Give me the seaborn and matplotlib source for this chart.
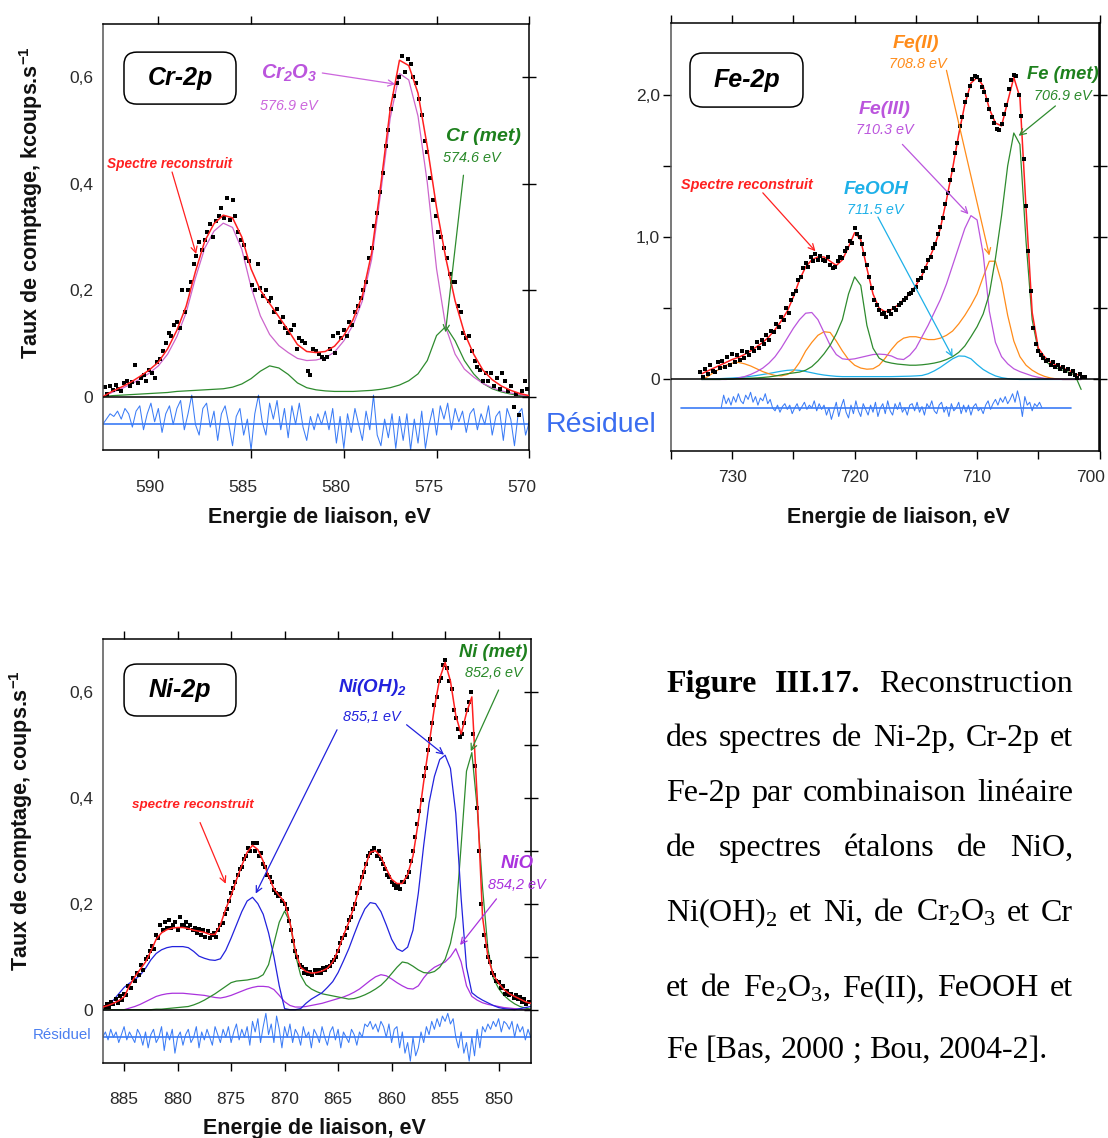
import numpy as np
import matplotlib
matplotlib.use("Agg")
import matplotlib.pyplot as plt
import matplotlib.transforms as mtransforms
from matplotlib.patches import FancyBboxPatch
import seaborn as sns

# ---------------- Cr-2p ----------------
cr_e = np.linspace(593, 570, 47)
cr_fit = [0.000, 0.010, 0.018, 0.027, 0.038, 0.050, 0.065, 0.090, 0.125, 0.170,
          0.235, 0.292, 0.325, 0.341, 0.336, 0.300, 0.240, 0.200, 0.175, 0.150,
          0.125, 0.098, 0.085, 0.083, 0.085, 0.095, 0.115, 0.145, 0.190, 0.270,
          0.400, 0.540, 0.632, 0.622, 0.570, 0.470, 0.355, 0.260, 0.180, 0.120,
          0.080, 0.050, 0.032, 0.020, 0.012, 0.006, 0.002]
cr_cr2o3 = [0.000, 0.008, 0.015, 0.023, 0.033, 0.044, 0.058, 0.080, 0.113, 0.158,
            0.223, 0.279, 0.311, 0.326, 0.318, 0.277, 0.206, 0.152, 0.117, 0.096,
            0.083, 0.072, 0.068, 0.069, 0.073, 0.084, 0.105, 0.135, 0.180, 0.258,
            0.386, 0.523, 0.607, 0.595, 0.527, 0.402, 0.240, 0.130, 0.080, 0.052,
            0.037, 0.025, 0.017, 0.011, 0.007, 0.004, 0.001]
cr_met = [0.000, 0.002, 0.003, 0.004, 0.005, 0.006, 0.007, 0.008, 0.010, 0.011,
          0.012, 0.013, 0.014, 0.015, 0.018, 0.024, 0.034, 0.048, 0.058, 0.054,
          0.042, 0.026, 0.017, 0.013, 0.011, 0.010, 0.010, 0.010, 0.011, 0.012,
          0.014, 0.017, 0.022, 0.030, 0.043, 0.068, 0.115, 0.132, 0.105, 0.068,
          0.043, 0.025, 0.015, 0.009, 0.005, 0.002, 0.001]
cr_pts_e = np.linspace(592.9, 570.1, 153)
cr_pts = [0.018, 0.005, 0.02, 0.012, 0.022, 0.015, 0.01, 0.025, 0.03, 0.02,
          0.028, 0.06, 0.025, 0.035, 0.04, 0.03, 0.05, 0.045, 0.035, 0.065,
          0.07, 0.085, 0.1, 0.12, 0.115, 0.135, 0.14, 0.13, 0.2, 0.16,
          0.2, 0.215, 0.25, 0.265, 0.29, 0.275, 0.295, 0.31, 0.325, 0.3,
          0.33, 0.34, 0.354, 0.335, 0.373, 0.332, 0.37, 0.34, 0.31, 0.295,
          0.285, 0.26, 0.255, 0.21, 0.2, 0.25, 0.205, 0.19, 0.2, 0.18,
          0.185, 0.16, 0.165, 0.14, 0.15, 0.13, 0.12, 0.125, 0.135, 0.09,
          0.11, 0.105, 0.1, 0.048, 0.04, 0.09, 0.085, 0.08, 0.075, 0.07,
          0.075, 0.09, 0.115, 0.082, 0.12, 0.11, 0.125, 0.115, 0.14, 0.135,
          0.16, 0.17, 0.185, 0.2, 0.215, 0.26, 0.28, 0.32, 0.345, 0.385,
          0.42, 0.47, 0.5, 0.54, 0.565, 0.59, 0.6, 0.64, 0.61, 0.635,
          0.625, 0.6, 0.59, 0.56, 0.53, 0.48, 0.46, 0.41, 0.37, 0.34,
          0.31, 0.3, 0.28, 0.26, 0.23, 0.215, 0.215, 0.17, 0.16, 0.12,
          0.11, 0.115, 0.085, 0.068, 0.056, 0.05, 0.03, 0.045, 0.03, 0.045,
          0.02, 0.035, 0.015, 0.045, 0.03, 0.01, 0.02, -0.02, 0.005, -0.035,
          0.01, 0.03, 0.015]
cr_res_e = np.linspace(593, 570, 116)
cr_res = [0.0, 0.01, 0.02, 0.015, 0.025, 0.01, 0.03, 0.02, -0.005, 0.025,
          0.035, -0.01, 0.02, 0.04, 0.005, 0.03, -0.015, 0.02, 0.035, 0.0,
          0.03, 0.045, -0.01, 0.02, 0.055, 0.0, -0.02, 0.03, 0.04, -0.005,
          0.025, -0.03, 0.02, 0.035, 0.0, -0.04, 0.015, 0.03, -0.02, 0.01,
          -0.048, 0.02, 0.055, 0.005, -0.02, 0.04, 0.01, 0.045, -0.01, 0.03,
          -0.025, 0.035, 0.0, 0.04, -0.005, -0.03, 0.015, -0.01, 0.02, 0.0,
          0.025, -0.01, 0.03, -0.035, 0.015, -0.045, 0.02, -0.015, 0.03, 0.0,
          -0.03, 0.025, -0.01, 0.055, -0.02, -0.04, 0.01, -0.025, 0.02, -0.045,
          0.015, -0.03, 0.02, -0.048, 0.01, -0.035, 0.025, -0.045, 0.0, 0.03,
          -0.02, 0.035, 0.01, 0.04, -0.01, 0.03, 0.005, 0.025, -0.015, 0.02,
          0.03, -0.01, 0.02, 0.0, 0.035, -0.02, 0.015, 0.025, -0.03, 0.03,
          0.01, -0.04, 0.02, 0.03, -0.02, 0.005]
cr_res_base = -0.052
cr_base_e = [593, 570]

# ---------------- Fe-2p ----------------
fe_e = np.linspace(732.5, 701.5, 63)
fe_fit = [0.04, 0.06, 0.08, 0.10, 0.12, 0.14, 0.155, 0.175, 0.20, 0.23,
          0.26, 0.30, 0.35, 0.41, 0.48, 0.58, 0.70, 0.79, 0.84, 0.86,
          0.86, 0.83, 0.80, 0.84, 0.93, 1.03, 0.98, 0.78, 0.60, 0.50,
          0.475, 0.49, 0.52, 0.56, 0.60, 0.66, 0.73, 0.83, 0.93, 1.06,
          1.26, 1.48, 1.72, 1.93, 2.08, 2.12, 2.06, 1.90, 1.80, 1.78,
          1.95, 2.12, 1.98, 1.20, 0.47, 0.22, 0.16, 0.12, 0.10, 0.08,
          0.065, 0.04, 0.025]
fe_met = [0.0, 0.0, 0.0, 0.0, 0.002, 0.003, 0.005, 0.007, 0.009, 0.011,
          0.014, 0.018, 0.024, 0.032, 0.04, 0.046, 0.052, 0.065, 0.09, 0.13,
          0.18, 0.24, 0.32, 0.42, 0.60, 0.72, 0.66, 0.38, 0.22, 0.15,
          0.125, 0.115, 0.108, 0.104, 0.10, 0.10, 0.103, 0.108, 0.115, 0.125,
          0.14, 0.16, 0.19, 0.235, 0.30, 0.37, 0.46, 0.60, 0.85, 1.15,
          1.50, 1.73, 1.65, 0.97, 0.42, 0.20, 0.135, 0.10, 0.08, 0.065,
          0.05, 0.03, -0.07]
fe_fe3 = [0.0, 0.0, 0.0, 0.0, 0.0, 0.003, 0.01, 0.02, 0.035, 0.055,
          0.08, 0.115, 0.16, 0.22, 0.29, 0.36, 0.42, 0.465, 0.47, 0.42,
          0.33, 0.24, 0.175, 0.145, 0.14, 0.145, 0.155, 0.165, 0.175, 0.178,
          0.175, 0.165, 0.145, 0.14, 0.17, 0.22, 0.30, 0.38, 0.47, 0.56,
          0.67, 0.80, 0.93, 1.06, 1.15, 1.12, 0.88, 0.48, 0.26, 0.16,
          0.11, 0.075, 0.055, 0.04, 0.025, 0.015, 0.008, 0.004, 0.002, 0.0,
          0.0, 0.0, 0.0]
fe_fe2 = [0.0, 0.02, 0.05, 0.075, 0.10, 0.115, 0.12, 0.11, 0.095, 0.075,
          0.055, 0.04, 0.028, 0.025, 0.035, 0.06, 0.12, 0.20, 0.26, 0.31,
          0.335, 0.33, 0.27, 0.20, 0.14, 0.10, 0.08, 0.072, 0.075, 0.10,
          0.15, 0.21, 0.26, 0.29, 0.30, 0.30, 0.29, 0.28, 0.28, 0.29,
          0.31, 0.34, 0.39, 0.45, 0.52, 0.60, 0.72, 0.83, 0.83, 0.68,
          0.45, 0.27, 0.16, 0.10, 0.065, 0.04, 0.022, 0.01, 0.004, 0.0,
          0.0, 0.0, 0.0]
fe_feooh = [0.0, 0.002, 0.004, 0.006, 0.008, 0.01, 0.013, 0.017, 0.022, 0.028,
            0.035, 0.042, 0.05, 0.058, 0.064, 0.067, 0.064, 0.056, 0.047, 0.038,
            0.031, 0.026, 0.022, 0.02, 0.02, 0.02, 0.02, 0.02, 0.02, 0.02,
            0.02, 0.02, 0.021, 0.022, 0.023, 0.025, 0.028, 0.04, 0.06, 0.085,
            0.115, 0.145, 0.165, 0.163, 0.145, 0.105, 0.07, 0.045, 0.025, 0.013,
            0.006, 0.002, 0.0, 0.0, 0.0, 0.0, 0.0, 0.0, 0.0, 0.0,
            0.0, 0.0, 0.0]
fe_pts_e = np.linspace(732.6, 701.2, 158)
fe_pts = [0.05, 0.02, 0.07, 0.04, 0.1, 0.06, 0.05, 0.12, 0.08, 0.13,
          0.09, 0.16, 0.1, 0.18, 0.12, 0.17, 0.14, 0.2, 0.15, 0.19,
          0.17, 0.22, 0.2, 0.26, 0.22, 0.28, 0.25, 0.31, 0.28, 0.34,
          0.33, 0.39, 0.37, 0.44, 0.42, 0.5, 0.47, 0.56, 0.6, 0.62,
          0.7, 0.72, 0.78, 0.82, 0.79, 0.86, 0.83, 0.88, 0.84, 0.87,
          0.84, 0.83, 0.86, 0.8, 0.78, 0.79, 0.83, 0.86, 0.85, 0.9,
          0.92, 0.97, 0.96, 1.06, 1.02, 1.0, 0.95, 0.88, 0.8, 0.72,
          0.64, 0.56, 0.52, 0.49, 0.46, 0.47, 0.44, 0.48, 0.46, 0.5,
          0.49, 0.52, 0.54, 0.56, 0.57, 0.6, 0.61, 0.63, 0.65, 0.7,
          0.71, 0.76, 0.78, 0.84, 0.86, 0.92, 0.95, 1.02, 1.07, 1.13,
          1.23, 1.31, 1.4, 1.47, 1.59, 1.66, 1.78, 1.84, 1.95, 2.0,
          2.06, 2.11, 2.13, 2.12, 2.1, 2.05, 2.02, 1.96, 1.9, 1.84,
          1.8, 1.76, 1.75, 1.79, 1.86, 1.93, 2.04, 2.1, 2.14, 2.13,
          2.0, 1.85, 1.55, 1.22, 0.9, 0.62, 0.36, 0.25, 0.2, 0.17,
          0.15, 0.13, 0.14, 0.1, 0.12, 0.09, 0.1, 0.07, 0.085, 0.06,
          0.075, 0.04, 0.06, 0.03, 0.01, 0.04, 0.015, 0.02]
fe_res_e = np.linspace(730.9, 704.7, 132)
fe_res = [0.0, 0.09, 0.03, 0.07, 0.02, 0.08, 0.04, 0.1, 0.05, 0.03,
          0.09, 0.06, 0.11, 0.04, 0.08, 0.02, 0.07, 0.05,
          0.1, 0.03, 0.06, 0.0, -0.02, 0.02, -0.03, 0.01, 0.03, -0.01,
          0.02, -0.04, 0.0, 0.03, -0.02, 0.01, 0.04, -0.01, 0.02, 0.0, 0.05, -0.02,
          0.03, -0.01, 0.02, -0.05, 0.0, -0.08, -0.02, 0.04, -0.06, 0.01,
          0.06, -0.03, -0.07, 0.02, -0.04, 0.05, -0.02, -0.06, 0.03, -0.01,
          -0.05, 0.02, -0.03, 0.04, -0.06, 0.0, 0.03, -0.04, 0.05, -0.02,
          -0.05, 0.03, -0.01, 0.04, -0.03, 0.0, -0.05, 0.02, 0.03, -0.02,
          0.04, -0.03, 0.01, -0.05, 0.03, 0.0, 0.05, -0.02, -0.04, 0.02,
          0.04, -0.03, 0.01, -0.06, 0.03, -0.02, 0.0, 0.04, -0.04, 0.02,
          -0.03, 0.02, -0.05, 0.01, 0.03, -0.02, 0.0, -0.04, 0.02, 0.05,
          -0.01, 0.03, 0.06, 0.02, 0.07, 0.04, 0.08, 0.03, 0.06, 0.1,
          0.04, 0.12, 0.05, -0.06, 0.08, 0.02, 0.04, -0.02, 0.03, 0.01, 0.04, 0.0]
fe_res_base = -0.2
fe_base_e = [734.2, 702.3]

# ---------------- Ni-2p ----------------
ni_e = np.linspace(887, 847, 81)
ni_fit = [0.005, 0.008, 0.012, 0.017, 0.024, 0.045, 0.062, 0.076, 0.09, 0.11,
          0.133, 0.145, 0.151, 0.154, 0.155, 0.155, 0.153, 0.15, 0.148, 0.146,
          0.142, 0.142, 0.16, 0.19, 0.215, 0.245, 0.272, 0.297, 0.31, 0.302,
          0.28, 0.252, 0.228, 0.215, 0.203, 0.165, 0.112, 0.08, 0.072, 0.069,
          0.07, 0.073, 0.078, 0.09, 0.112, 0.14, 0.165, 0.195, 0.232, 0.268,
          0.297, 0.3, 0.288, 0.266, 0.246, 0.238, 0.238, 0.255, 0.29, 0.355,
          0.43, 0.5, 0.57, 0.625, 0.655, 0.62, 0.555, 0.52, 0.56, 0.59,
          0.4, 0.175, 0.1, 0.066, 0.05, 0.038, 0.03, 0.025, 0.02, 0.015,
          0.012]
ni_oh2 = [0.0, 0.008, 0.018, 0.03, 0.042, 0.05, 0.057, 0.065, 0.078, 0.094,
          0.106, 0.113, 0.117, 0.119, 0.119, 0.119, 0.117, 0.11, 0.101, 0.097,
          0.094, 0.093, 0.096, 0.112, 0.135, 0.16, 0.185, 0.205, 0.212, 0.2,
          0.18, 0.145, 0.1, 0.045, 0.002, 0.0, 0.0, 0.002, 0.012, 0.02,
          0.026, 0.032, 0.042, 0.053, 0.07, 0.092, 0.115, 0.142, 0.168, 0.19,
          0.202, 0.2, 0.185, 0.16, 0.133, 0.115, 0.11, 0.118, 0.15, 0.22,
          0.31, 0.39, 0.44, 0.472, 0.48, 0.455, 0.37, 0.21, 0.08, 0.032,
          0.024, 0.018, 0.013, 0.008, 0.004, 0.002, 0.001, 0.0, 0.002, 0.004,
          0.006]
ni_met = [0.0, 0.0, 0.0, 0.0, 0.0, 0.0, 0.0, 0.0, 0.0, 0.0,
          0.001, 0.001, 0.002, 0.003, 0.004, 0.005, 0.006, 0.009, 0.013, 0.018,
          0.024, 0.03, 0.037, 0.044, 0.051, 0.054, 0.055, 0.056, 0.058, 0.06,
          0.066, 0.085, 0.125, 0.165, 0.186, 0.165, 0.105, 0.065, 0.047, 0.039,
          0.034, 0.03, 0.028, 0.026, 0.024, 0.022, 0.02, 0.021, 0.024, 0.028,
          0.033, 0.039, 0.046, 0.056, 0.068, 0.08, 0.09, 0.088, 0.082, 0.075,
          0.07, 0.069, 0.072, 0.08, 0.095, 0.125, 0.175, 0.31, 0.45, 0.485,
          0.38, 0.23, 0.115, 0.06, 0.04, 0.027, 0.018, 0.011, 0.006, 0.003,
          0.001]
ni_nio = [0.0, 0.0, 0.0, 0.0, 0.0, 0.003, 0.006, 0.01, 0.015, 0.02,
          0.025, 0.028, 0.03, 0.031, 0.031, 0.031, 0.03, 0.029, 0.028, 0.027,
          0.025, 0.023, 0.022, 0.024, 0.027, 0.031, 0.035, 0.039, 0.042, 0.044,
          0.044, 0.043, 0.038, 0.027, 0.015, 0.008, 0.005, 0.005, 0.006, 0.008,
          0.01, 0.012, 0.015, 0.018, 0.021, 0.024, 0.028, 0.033, 0.039, 0.047,
          0.055, 0.062, 0.066, 0.064, 0.058, 0.051, 0.045, 0.04, 0.039, 0.045,
          0.06, 0.072, 0.08, 0.085, 0.09, 0.1, 0.115, 0.09, 0.045, 0.025,
          0.018, 0.013, 0.01, 0.008, 0.006, 0.004, 0.003, 0.002, 0.001, 0.0,
          0.0]
ni_pts_e = np.linspace(886.8, 847.2, 199)
ni_pts = [0.005, 0.01, 0.006, 0.015, 0.01, 0.02, 0.012, 0.025, 0.018, 0.03,
          0.028, 0.045, 0.04, 0.06, 0.055, 0.07, 0.065, 0.085, 0.075, 0.095,
          0.1, 0.11, 0.12, 0.115, 0.14, 0.135, 0.16, 0.15, 0.165, 0.155,
          0.17, 0.155, 0.16, 0.165, 0.15, 0.175, 0.16, 0.158, 0.165, 0.155,
          0.16, 0.15, 0.155, 0.145, 0.152, 0.14, 0.15, 0.138, 0.148, 0.135,
          0.14, 0.145, 0.138, 0.15, 0.16, 0.163, 0.18, 0.19, 0.205, 0.22,
          0.23, 0.24, 0.255, 0.265, 0.27, 0.285, 0.29, 0.305, 0.3, 0.315,
          0.3, 0.315, 0.29, 0.295, 0.275, 0.27, 0.255, 0.25, 0.24, 0.225,
          0.22, 0.215, 0.218, 0.205, 0.2, 0.19, 0.168, 0.15, 0.13, 0.11,
          0.1, 0.085, 0.08, 0.07, 0.076, 0.068, 0.072, 0.065, 0.074, 0.069,
          0.075, 0.07, 0.078, 0.074, 0.08, 0.082, 0.09, 0.093, 0.1, 0.11,
          0.125, 0.135, 0.14, 0.155, 0.17, 0.175, 0.19, 0.2, 0.22, 0.23,
          0.25, 0.26, 0.275, 0.29, 0.295, 0.3, 0.305, 0.29, 0.3, 0.285,
          0.275, 0.265, 0.255, 0.25, 0.24, 0.235, 0.23, 0.235, 0.228, 0.24,
          0.24, 0.25, 0.26, 0.28, 0.3, 0.325, 0.35, 0.375, 0.395, 0.44,
          0.455, 0.49, 0.51, 0.54, 0.575, 0.59, 0.62, 0.625, 0.65, 0.66,
          0.645, 0.62, 0.605, 0.565, 0.55, 0.53, 0.515, 0.52, 0.54, 0.565,
          0.58, 0.6, 0.52, 0.46, 0.38, 0.3, 0.2, 0.14, 0.12, 0.1,
          0.09, 0.07, 0.065, 0.055, 0.052, 0.04, 0.045, 0.03, 0.035, 0.028,
          0.03, 0.022, 0.028, 0.02, 0.024, 0.015, 0.02, 0.01, 0.015]
ni_res_e = np.linspace(887, 847, 161)
ni_res = [0.0, 0.01, -0.005, 0.015, 0.0, 0.01, -0.01, 0.005, 0.02, -0.005, 0.01, 0.0, -0.01, 0.015, 0.005, -0.015,
          0.01, -0.02, 0.005, 0.015, -0.01, 0.0, 0.02, -0.025, 0.01, -0.005, 0.015, -0.03, 0.0, 0.01, -0.015, 0.005,
          0.015, -0.01, 0.0, 0.02, -0.02, 0.01, -0.005, 0.015, 0.0, -0.015, 0.02, 0.005, -0.01, 0.015, 0.0, 0.02,
          -0.01, 0.01, 0.025, -0.005, 0.015, 0.0, 0.02, -0.015, 0.03, 0.01, 0.035, -0.01, 0.02, 0.045, 0.005, 0.025,
          -0.01, 0.04, 0.015, -0.02, 0.02, 0.0, 0.025, -0.01, 0.015, 0.005, -0.015, 0.02, 0.0, 0.01, -0.02, 0.015,
          0.005, -0.01, 0.02, 0.0, -0.015, 0.01, 0.02, -0.005, 0.015, -0.02, 0.01, 0.0, -0.01, 0.015, 0.005, -0.015,
          0.01, 0.0, 0.025, 0.02, 0.03, 0.015, 0.025, 0.01, 0.03, 0.02, 0.0, 0.025, -0.01, 0.015, 0.02, -0.02,
          0.01, -0.03, -0.01, -0.045, 0.0, -0.035, -0.02, 0.01, -0.01, 0.02, 0.005, 0.03, 0.015, 0.035, 0.02, 0.04,
          0.03, 0.045, 0.025, 0.035, 0.0, -0.02, 0.01, -0.03, -0.01, -0.045, 0.0, -0.035, 0.015, -0.02, 0.02, 0.01,
          0.025, 0.015, 0.03, 0.02, 0.035, 0.01, 0.03, 0.025, 0.015, 0.03, 0.0, 0.025, 0.01, 0.02, -0.005, 0.015,
          0.0]
ni_res_base = -0.052
ni_base_e = [887, 847]

# ---------------- caption ----------------
caption_lines = [
    "Figure III.17. Reconstruction",
    "des spectres de Ni-2p, Cr-2p et",
    "Fe-2p par combinaison linéaire",
    "de spectres étalons de NiO,",
    r"Ni(OH)$_{\mathrm{2}}$ et Ni, de Cr$_{\mathrm{2}}$O$_{\mathrm{3}}$ et Cr",
    r"et de Fe$_{\mathrm{2}}$O$_{\mathrm{3}}$, Fe(II), FeOOH et",
    "Fe [Bas, 2000 ; Bou, 2004-2].",
]
caption_bold = {"Figure", "III.17."}
caption_baselines = [692, 746, 801, 856, 921, 996, 1058]

# colours
RED = "#ff2020"
GREEN = "#2e8b2e"
CR2O3 = "#cc66cc"
FE2 = "#ff8c1a"
FE3 = "#bb55dd"
FEOOH = "#1eb0e8"
NIOH = "#2222dd"
NIO = "#aa33dd"
RESID = "#3b7cf6"

sns.set_theme(style="white")
plt.rcParams["font.family"] = ["Liberation Sans", "DejaVu Sans"]
plt.rcParams["mathtext.fontset"] = "custom"
plt.rcParams["mathtext.rm"] = "Liberation Serif"
plt.rcParams["mathtext.bf"] = "Liberation Sans:italic:bold"
plt.rcParams["mathtext.sf"] = "Liberation Sans:bold"
plt.rcParams["mathtext.it"] = "Liberation Sans:italic"

W, H = 1108, 1138
fig = plt.figure(figsize=(W / 100, H / 100), dpi=100)
fig.patch.set_facecolor("white")

ax_cr = fig.add_axes([102.7 / W, 1 - 450 / H, 426.6 / W, 426 / H])
ax_fe = fig.add_axes([671 / W, 1 - 450.7 / H, 428.5 / W, 427.4 / H])
ax_ni = fig.add_axes([102.7 / W, 1 - 1062.7 / H, 428 / W, 424.1 / H])


def curve(ax, x, y, color, lw=0.9, z=2):
    sns.lineplot(x=x, y=y, ax=ax, color=color, linewidth=lw,
                 estimator=None, sort=False, zorder=z)


def points(ax, x, y, size, z=3):
    sns.scatterplot(x=x, y=y, ax=ax, marker="s", s=size, color="black",
                    linewidth=0, zorder=z)


def residual(ax, x, res, base, base_e):
    curve(ax, x, base + np.array(res), RESID, lw=0.75, z=2)
    curve(ax, base_e, [base, base], RESID, lw=1.2, z=2)


def frame(ax, xlim, ylim, xticks, xlabels, yticks, ylabels, xpad):
    ax.set_facecolor("white")
    ax.grid(False)
    ax.set_xlim(*xlim)
    ax.set_ylim(*ylim)
    ax.set_xticks(xticks, xlabels)
    ax.set_yticks(yticks, ylabels)
    ax.tick_params(axis="x", which="major", direction="out", top=True, bottom=True,
                   length=5.5, width=1.0, color="black", labelsize=12.5,
                   labelcolor="#2a2a2a", pad=xpad)
    for s in ax.spines.values():
        s.set_visible(True)
        s.set_color("black")
        s.set_linewidth(1.1)
    ax.spines["left"].set_color("#555555")
    ax.axhline(0, color="black", lw=1.1, zorder=4)
    ax.set_xlabel("Energie de liaison, eV", fontsize=15.5, fontweight="bold", color="#111111")


def shift_label(lab, dx_px):
    off = mtransforms.ScaledTranslation(dx_px / 100, 0, fig.dpi_scale_trans)
    lab.set_transform(lab.get_transform() + off)


def label_box(ax, x0, x1, y0, y1, text):
    box = FancyBboxPatch((x0, y0), x1 - x0, y1 - y0, transform=ax.transAxes,
                         boxstyle="round,pad=0,rounding_size=0.03",
                         facecolor="white", edgecolor="black", lw=1.1, zorder=6, clip_on=False)
    ax.add_patch(box)
    ax.text((x0 + x1) / 2, (y0 + y1) / 2, text, transform=ax.transAxes, ha="center", va="center",
            fontsize=18, fontweight="bold", fontstyle="italic", color="black", zorder=7)


def tag(ax, x, y, s, color, size, bold=True):
    ax.text(x, y, s, color=color, fontsize=size, fontweight="bold" if bold else "normal",
            fontstyle="italic", ha="center", va="center", zorder=7)


def arrow(ax, start, end, color):
    ax.annotate("", xy=end, xytext=start,
                arrowprops=dict(arrowstyle="->", color=color, lw=0.9, shrinkA=0, shrinkB=0,
                                mutation_scale=11), zorder=7)


# ---------- Cr panel ----------
ax = ax_cr
residual(ax, cr_res_e, cr_res, cr_res_base, cr_base_e)
points(ax, cr_pts_e, cr_pts, 9, z=2.5)
curve(ax, cr_e, cr_met, GREEN)
curve(ax, cr_e, cr_cr2o3, CR2O3)
curve(ax, cr_e, cr_fit, RED, lw=1.1, z=3)
frame(ax, (593, 570), (-0.1, 0.7), [590, 585, 580, 575, 570], ["590", "585", "580", "575", "570"],
      [0, 0.2, 0.4, 0.6], ["0", "0,2", "0,4", "0,6"], 15.8)
ax.tick_params(axis="y", left=False, right=True, direction="inout", length=10, width=1.0,
               color="black", labelsize=12.5, labelcolor="#2a2a2a", pad=2)
for lab in ax.get_xticklabels():
    shift_label(lab, -8)
ax.xaxis.set_label_coords(0.509, -0.134)
ax.text(-0.168, 0.58, r"Taux de comptage, kcoups.s$^{\mathsf{-1}}$", transform=ax.transAxes,
        rotation=90, ha="center", va="center", fontsize=15.5, fontweight="bold", color="#111111")
label_box(ax, 0.0499, 0.3125, 0.812, 0.934, "Cr-2p")
tag(ax, 582.94, 0.608, r"Cr$_{\mathbf{2}}$O$_{\mathbf{3}}$", "#bb55dd", 14.5)
tag(ax, 582.94, 0.546, "576.9 eV", "#cc66dd", 10.4, bold=False)
tag(ax, 572.47, 0.488, "Cr (met)", "#1d801d", 14)
tag(ax, 573.11, 0.448, "574.6 eV", "#2a8a2a", 10.4, bold=False)
tag(ax, 589.37, 0.437, "Spectre reconstruit", RED, 9.8)
arrow(ax, (581.16, 0.608), (577.22, 0.587), "#cc66dd")
arrow(ax, (573.55, 0.416), (574.52, 0.121), GREEN)
arrow(ax, (589.26, 0.422), (587.96, 0.268), RED)

# ---------- Fe panel ----------
ax = ax_fe
residual(ax, fe_res_e, fe_res, fe_res_base, fe_base_e)
curve(ax, fe_e, fe_feooh, FEOOH)
curve(ax, fe_e, fe_fe2, FE2)
curve(ax, fe_e, fe_fe3, FE3)
curve(ax, fe_e, fe_met, GREEN)
curve(ax, fe_e, fe_fit, RED, lw=1.1, z=2.6)
points(ax, fe_pts_e, fe_pts, 11, z=3)
frame(ax, (735, 700), (-0.5, 2.5), [735, 730, 725, 720, 715, 710, 705, 700],
      ["", "730", "", "720", "", "710", "", "700"],
      [0, 0.5, 1, 1.5, 2], ["0", "", "1,0", "", "2,0"], 8.7)
ax.tick_params(axis="y", left=True, right=False, direction="out", length=5.5, width=1.0,
               color="black", labelsize=12.5, labelcolor="#2a2a2a", pad=2.4)
shift_label(ax.get_xticklabels()[-1], -9)
sec = ax.secondary_yaxis("right")
sec.set_yticks([0, 0.5, 1, 1.5, 2])
sec.tick_params(axis="y", direction="inout", length=10, width=1.0, color="black", labelright=False)
sec.spines["right"].set_color("black")
ax.xaxis.set_label_coords(0.53, -0.1324)
label_box(ax, 0.0443, 0.308, 0.804, 0.9305, "Fe-2p")
tag(ax, 714.98, 2.358, "Fe(II)", FE2, 14)
tag(ax, 714.85, 2.215, "708.8 eV", FE2, 10.4, bold=False)
tag(ax, 703.03, 2.141, "Fe (met)", "#1d801d", 13.2)
tag(ax, 703.03, 1.99, "706.9 eV", "#2a8a2a", 10.4, bold=False)
tag(ax, 717.54, 1.892, "Fe(III)", FE3, 14)
tag(ax, 717.54, 1.751, "710.3 eV", FE3, 10.4, bold=False)
tag(ax, 728.8, 1.364, "Spectre reconstruit", RED, 10.4)
tag(ax, 718.28, 1.336, "FeOOH", FEOOH, 13.6)
tag(ax, 718.31, 1.188, "711.5 eV", FEOOH, 10.4, bold=False)
arrow(ax, (727.5, 1.31), (723.2, 0.9), RED)
arrow(ax, (718.1, 1.14), (712.0, 0.158), FEOOH)
arrow(ax, (716.1, 1.65), (710.7, 1.16), FE3)
arrow(ax, (712.5, 2.17), (709.0, 0.87), FE2)
arrow(ax, (703.6, 1.92), (706.6, 1.71), GREEN)

# ---------- Ni panel ----------
ax = ax_ni
residual(ax, ni_res_e, ni_res, ni_res_base, ni_base_e)
points(ax, ni_pts_e, ni_pts, 5, z=2.5)
curve(ax, ni_e, ni_nio, NIO)
curve(ax, ni_e, ni_met, GREEN)
curve(ax, ni_e, ni_oh2, NIOH)
curve(ax, ni_e, ni_fit, RED, lw=1.1, z=3)
frame(ax, (887, 847), (-0.1, 0.7), [885, 880, 875, 870, 865, 860, 855, 850],
      ["885", "880", "875", "870", "865", "860", "855", "850"],
      [0, 0.2, 0.4, 0.6], ["0", "0,2", "0,4", "0,6"], 15.6)
ax.set_yticks([0.1, 0.3, 0.5], minor=True)
ax.tick_params(axis="y", which="both", left=False, right=True, direction="inout", length=10,
               width=1.0, color="black", labelsize=12.5, labelcolor="#2a2a2a", pad=2)
ax.xaxis.set_label_coords(0.494, -0.131)
ax.text(-0.191, 0.572, r"Taux de comptage, coups.s$^{\mathsf{-1}}$", transform=ax.transAxes,
        rotation=90, ha="center", va="center", fontsize=15.5, fontweight="bold", color="#111111")
label_box(ax, 0.0499, 0.3114, 0.8175, 0.940, "Ni-2p")
tag(ax, 850.49, 0.673, "Ni (met)", "#1d801d", 13.2)
tag(ax, 850.49, 0.635, "852,6 eV", "#2a8a2a", 10.4, bold=False)
tag(ax, 861.81, 0.607, r"Ni(OH)$_{\mathbf{2}}$", NIOH, 13.5)
tag(ax, 861.81, 0.552, "855,1 eV", NIOH, 10.4, bold=False)
tag(ax, 878.55, 0.386, "spectre reconstruit", RED, 9.6)
tag(ax, 848.24, 0.275, "NiO", NIO, 13.4)
tag(ax, 848.3, 0.236, "854,2 eV", NIO, 10.4, bold=False)
arrow(ax, (877.9, 0.353), (875.5, 0.2375), RED)
arrow(ax, (865.1, 0.528), (872.7, 0.219), NIOH)
arrow(ax, (858.6, 0.5375), (855.1, 0.481), NIOH)
arrow(ax, (850.0, 0.603), (852.6, 0.4875), GREEN)
arrow(ax, (850.2, 0.209), (853.6, 0.122), NIO)

# residual labels
fig.text(601 / W, 1 - 425 / H, "Résiduel", fontsize=20.5, color="#3a6df0", ha="center", va="center")
fig.text(62 / W, 1 - 1035 / H, "Résiduel", fontsize=10.8, color="#4a7ef0", ha="center", va="center")

# ---------- justified caption ----------
fig.canvas.draw()
renderer = fig.canvas.get_renderer()
x_left, x_right = 666, 1073
for k, line in enumerate(caption_lines):
    words = line.split(" ")
    objs = [fig.text(0, 0, w, fontsize=23, family="Liberation Serif",
                     fontweight="bold" if w in caption_bold else "normal",
                     ha="left", va="baseline", color="black") for w in words]
    widths = [t.get_window_extent(renderer).width for t in objs]
    if k < len(caption_lines) - 1:
        gap = (x_right - x_left - sum(widths)) / (len(words) - 1)
    else:
        gap = 0.25 * 23 * 100 / 72
    x = x_left
    for t, w in zip(objs, widths):
        t.set_position((x / W, 1 - caption_baselines[k] / H))
        x += w + gap

fig.savefig("out.png", dpi=100, facecolor="white")
